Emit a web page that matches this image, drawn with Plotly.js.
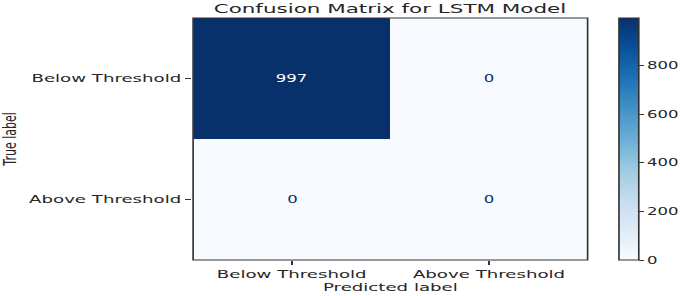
<!DOCTYPE html>
<html><head><meta charset="utf-8">
<script src="https://cdn.plot.ly/plotly-3.0.1.min.js"></script>
<style>
html,body{margin:0;padding:0;background:#fff;overflow:hidden;width:685px;height:296px;}
#chart{width:415px;height:296px;transform:scaleX(1.6506);transform-origin:0 0;}
</style>
</head><body><div id="chart"></div>
<script>
const predictedLabels = ["Below Threshold", "Above Threshold"];
const trueLabels = ["Below Threshold", "Above Threshold"];
const counts = [[997, 0], [0, 0]];
const colorbarTicks = [0, 200, 400, 600, 800];

const blues = [
  [0.0, "#f7fbff"], [0.125, "#deebf7"], [0.25, "#c6dbef"], [0.375, "#9ecae1"],
  [0.5, "#6baed6"], [0.625, "#4292c6"], [0.75, "#2171b5"], [0.875, "#08519c"], [1.0, "#08306b"]
];
const zmax = Math.max(...counts.flat());
const annotations = [];
trueLabels.forEach((t, i) => predictedLabels.forEach((p, j) => {
  const v = counts[i][j];
  annotations.push({x: p, y: t, xref: "x", yref: "y", text: String(v), showarrow: false,
    font: {family: "DejaVu Sans", size: 10, color: v > zmax / 2 ? "#ffffff" : "#08306b"}});
}));

const txt = "#262626";
const trace = {
  type: "heatmap", x: predictedLabels, y: trueLabels, z: counts,
  colorscale: blues, zmin: 0, zmax: zmax, hoverinfo: "skip",
  colorbar: {x: 1.0787, xanchor: "left", y: 0.5, yanchor: "middle", len: 1, lenmode: "fraction",
    thickness: 12, thicknessmode: "pixels", outlinewidth: 1, outlinecolor: "#333",
    tickvals: colorbarTicks, ticks: "outside", ticklen: 3, tickcolor: "#333",
    tickfont: {family: "DejaVu Sans", size: 10, color: txt}, xpad: 0, ypad: 0}
};
const layout = {
  width: 415, height: 296, margin: {l: 117, r: 59, t: 18, b: 36, autoexpand: false},
  paper_bgcolor: "#fff", plot_bgcolor: "#fff",
  title: {text: "Confusion Matrix for LSTM Model", x: 0.5693, xanchor: "center", y: 0.972, yanchor: "middle",
    font: {family: "DejaVu Sans", size: 13, color: txt}},
  xaxis: {type: "category", showline: false, automargin: false,
    ticks: "outside", ticklen: 4, tickcolor: "#333", showgrid: false, zeroline: false,
    tickfont: {family: "DejaVu Sans", size: 11, color: txt},
    title: {text: "Predicted label", standoff: 0, font: {family: "DejaVu Sans", size: 11, color: txt}}},
  yaxis: {type: "category", autorange: "reversed", showline: false, automargin: false,
    ticks: "outside", ticklen: 4, tickcolor: "#333", showgrid: false, zeroline: false,
    tickfont: {family: "DejaVu Sans", size: 11, color: txt},
    title: {text: "True label", standoff: 6, font: {family: "DejaVu Sans", size: 11, color: txt}}},
  shapes: [{type: "rect", xref: "paper", yref: "paper", x0: 0, x1: 1, y0: 0, y1: 1,
    line: {color: "#333", width: 1}, fillcolor: "rgba(0,0,0,0)", layer: "above"}],
  annotations: annotations, showlegend: false
};
Plotly.newPlot("chart", [trace], layout, {displayModeBar: false, staticPlot: true});
</script></body></html>
